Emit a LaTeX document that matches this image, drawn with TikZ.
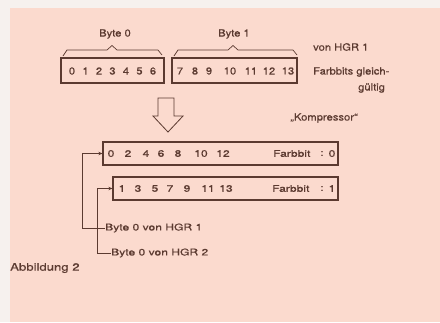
\documentclass[tikz,border=0pt]{standalone}
\usepackage{fontspec}
\setmainfont{TeX Gyre Heros}[FakeStretch=1.12, FakeBold=0.4]
\newfontfamily\widefont{TeX Gyre Heros}[FakeStretch=1.3, FakeBold=0.6]
\usetikzlibrary{arrows.meta}
\definecolor{ink}{HTML}{5B3A30}
\definecolor{paper}{HTML}{FBDACE}
\definecolor{margin}{HTML}{F6F1EE}
\tikzset{
  txt/.style={inner sep=0pt, text=ink, font=\fontsize{10}{12}\selectfont},
  small/.style={inner sep=0pt, text=ink, font=\widefont\fontsize{9.3}{11}\selectfont},
  box/.style={draw=ink, line width=1.2pt, inner sep=0pt},
  brace/.style={draw=ink, line width=0.7pt},
  conn/.style={draw=ink, line width=0.9pt, -{Stealth[length=4pt,width=3.5pt]}},
}
\begin{document}
\begin{tikzpicture}[x=1pt,y=-1pt]
\useasboundingbox (0,0) rectangle (440,322);
\fill[margin] (0,0) rectangle (440,322);
\fill[paper] (10,8) rectangle (440,322);

% top boxes
\node[box, minimum width=103pt, minimum height=25pt] (b1) at (112.5,70.5) {};
\node[box, minimum width=125pt, minimum height=25pt] (b2) at (234.5,70.5) {};
\foreach \d [count=\i from 0] in {0,1,2,3,4,5,6}
  \node[txt] (d\i) at (72+13.5*\i,71) {\d};
\foreach \d/\x in {7/180,8/195,9/209,10/230,11/251,12/269,13/288}
  \node[txt] (d\d) at (\x,71) {\d};

% braces
\draw[brace] (63,56) -- (67,50) -- (107,50) -- (112,45.5) -- (117,50) -- (158,50) -- (162,55);
\draw[brace] (174,56) -- (178,50) -- (228,50) -- (233,45.5) -- (238,50) -- (293,50) -- (297,55);
\node[txt] (byte0) at (115,34) {Byte 0};
\node[txt] (byte1) at (234,34) {Byte 1};

% right labels
\node[txt, anchor=west] (von) at (313,47) {von HGR 1};
\node[txt, anchor=west] (farb) at (313,72) {Farbbits gleich-};
\node[txt, anchor=west] (gult) at (358,88) {gültig};
\node[txt] (komp) at (324,118) {„Kompressor“};

% hollow arrow
\draw[ink, line width=0.8pt, line join=miter] (158,98) -- (174,98) -- (174,116) -- (183,116)
  -- (168,132) -- (153,116) -- (158,116) -- cycle;

% lower boxes
\node[box, minimum width=235pt, minimum height=23pt] (b3) at (220.5,153.5) {};
\node[box, minimum width=225pt, minimum height=23pt] (b4) at (225.5,188.5) {};
\foreach \d/\x in {0/111,2/128,4/146,6/161,8/178,10/201,12/223}
  \node[small] (e\d) at (\x,153.5) {\d};
\foreach \d/\x in {1/122,3/138,5/155,7/170,9/187,11/208,13/226}
  \node[small] (e\d) at (\x,188.5) {\d};
\node[small, anchor=west] (f0) at (273,153.5) {Farbbit};
\node[small] (c0) at (322,153.5) {:};
\node[small] (v0) at (332,153.5) {0};
\node[small, anchor=west] (f1) at (272,188.5) {Farbbit};
\node[small] (c1) at (322,188.5) {:};
\node[small] (v1) at (332,188.5) {1};

% connectors
\node[small, anchor=west] (l1) at (105,228) {Byte 0 von HGR 1};
\node[small, anchor=west] (l2) at (111,253) {Byte 0 von HGR 2};
\coordinate (k1) at (82,228);
\coordinate (k2) at (97,253);
\draw[conn] (l1.west) -- (k1) |- (b3.west);
\draw[conn] (l2.west) -- (k2) |- (b4.west);

\node[txt, anchor=west, font=\fontsize{10.5}{12}\selectfont\addfontfeature{FakeStretch=1.25}] (abb) at (10,268) {Abbildung 2};
\end{tikzpicture}
\end{document}
